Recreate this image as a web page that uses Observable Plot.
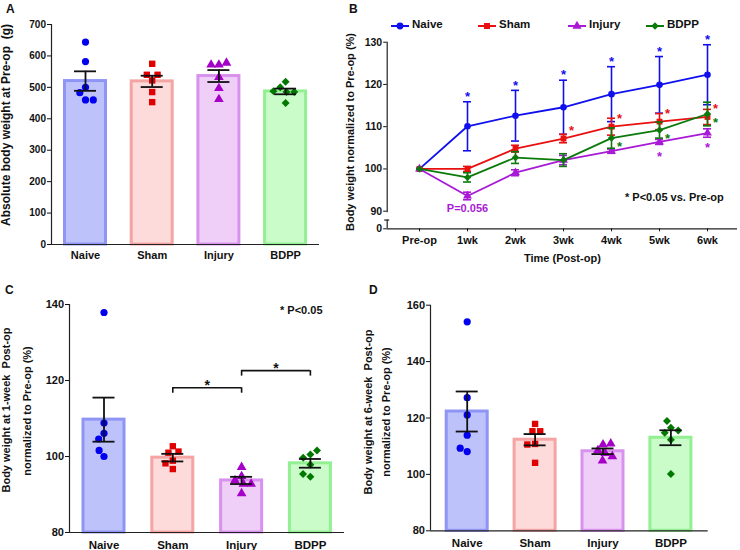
<!DOCTYPE html>
<html><head><meta charset="utf-8">
<script src="https://cdn.jsdelivr.net/npm/d3@7"></script>
<script src="https://cdn.jsdelivr.net/npm/@observablehq/plot@0.6"></script>
<style>
body{margin:0;background:#fff;font-family:"Liberation Sans",Arial,sans-serif;}
#root{position:relative;width:740px;height:550px;overflow:hidden;background:#fff;}
.panel{position:absolute;}
.lab{position:absolute;font-weight:bold;color:#111;white-space:pre;}
.rot{position:absolute;transform:translate(-50%,-50%) rotate(-90deg);font-weight:bold;font-size:11px;line-height:11px;white-space:pre;color:#111;}
</style></head><body><div id="root"></div>
<script>
// ---------- data ----------
const groups = ["Naive", "Sham", "Injury", "BDPP"];
const timeLabels = ["Pre-op", "1wk", "2wk", "3wk", "4wk", "5wk", "6wk"];

// Panel A: absolute body weight at Pre-op (g)
const aTicks = [0, 100, 200, 300, 400, 500, 600, 700];
const aMean = [520, 519, 536, 487];
const aSem = [31, 18, 19, 9];
const aNaive = [644, 582, 500, 483, 460, 460];
const aSham = [575, 522, 540, 540, 485, 453];
const aInjury = [572, 572, 578, 532, 497, 462];
const aBdpp = [518, 500, 485, 485, 488, 450];

// Panel B: body weight normalized to Pre-op (%)
const bTicks = [90, 100, 110, 120, 130];
const bNaiveMean = [100, 110.1, 112.6, 114.6, 117.7, 119.9, 122.3];
const bNaiveSem = [0, 5.8, 6.0, 6.4, 6.5, 6.7, 7.1];
const bShamMean = [100, 100.0, 104.8, 107.2, 110.0, 111.2, 112.3];
const bShamSem = [0, 0.6, 0.8, 1.0, 2.0, 1.9, 1.8];
const bInjuryMean = [100, 93.6, 99.1, 102.1, 104.2, 106.4, 108.5];
const bInjurySem = [0, 0.9, 0.7, 1.1, 0.5, 0.6, 1.0];
const bBdppMean = [100, 98.0, 102.7, 102.1, 107.3, 109.2, 113.0];
const bBdppSem = [0, 1.1, 1.4, 1.5, 2.4, 1.9, 2.8];
const bStarsNaive = [1, 2, 3, 4, 5, 6];
const bStarsSham = [3, 4, 5, 6];
const bStarsInjury = [5, 6];
const bStarsBdpp = [4, 5, 6];

// Panel C: 1-week post-op (%)
const cTicks = [80, 100, 120, 140];
const cMean = [109.7, 99.7, 93.7, 98.2];
const cSem = [5.8, 1.0, 0.95, 1.15];
const cNaive = [137.9, 108.8, 106.1, 104.6, 100.0, 101.6];
const cSham = [102.7, 101.0, 101.3, 98.9, 98.2, 96.7];
const cInjury = [97.2, 94.8, 93.7, 92.8, 92.8, 90.3];
const cBdpp = [100.5, 99.7, 101.6, 97.8, 94.7, 95.4];
const cBrackets = [{from: 1, to: 2, y: 118.1}, {from: 2, to: 3, y: 122.6}];

// Panel D: 6-week post-op (%)
const dTicks = [80, 100, 120, 140, 160];
const dMean = [122.3, 112.3, 108.2, 113.0];
const dSem = [7.1, 2.0, 1.0, 2.65];
const dNaive = [154.1, 127.2, 121.1, 113.9, 108.1, 109.3];
const dSham = [117.9, 115.3, 115.3, 110.8, 110.6, 104.1];
const dInjury = [110.6, 108.5, 110.9, 107.5, 104.9, 106.4];
const dBdpp = [116.5, 118.9, 114.8, 115.6, 112.3, 100.1];

// ---------- styles ----------
const barFill = ["#bec2fb", "#fddbdb", "#efcff8", "#c9fcc9"];
const barStroke = ["#8f95f4", "#f5a4a4", "#d892ee", "#92ef92"];
const dotColor = ["#0000ee", "#e00000", "#a400c8", "#007800"];
const lineColor = ["#1010ee", "#e81010", "#a81ad6", "#0a7a0a"];
const symbols = ["circle", "square", "triangle", "diamond2"];
const FONT = '"Liberation Sans", Arial, sans-serif';

const root = document.getElementById("root");
function place(el, left, top) {
  const d = document.createElement("div");
  d.className = "panel"; d.style.left = left + "px"; d.style.top = top + "px";
  d.appendChild(el); root.appendChild(d);
}
function label(text, left, top, size, color, cls) {
  const d = document.createElement("div");
  d.className = cls || "lab"; d.textContent = text;
  d.style.left = left + "px"; d.style.top = top + "px";
  if (size) { d.style.fontSize = size + "px"; d.style.lineHeight = size + "px"; }
  if (color) d.style.color = color;
  root.appendChild(d);
}

// simple beeswarm: horizontal offsets (px) so dots do not overlap
function swarm(values, ppu, D) {
  const placed = [];
  return values.map(v => {
    const y = v * ppu, forb = [];
    for (const p of placed) {
      const dy = Math.abs(p.y - y);
      if (dy < D) { const w = Math.sqrt(D * D - dy * dy); forb.push([p.x - w, p.x + w]); }
    }
    const cands = [0];
    forb.forEach(([a, b]) => cands.push(a, b));
    cands.sort((a, b) => Math.abs(a) - Math.abs(b) || a - b);
    const x = cands.find(c => forb.every(([a, b]) => c <= a + 1e-6 || c >= b - 1e-6));
    placed.push({y, x});
    return x;
  });
}

function barPanel(o) {
  const xDomain = [(o.axisX - o.c0) / o.step, (o.endX - o.c0) / o.step];
  const ppu = (o.yRange[0] - o.yRange[1]) / (o.yDomain[1] - o.yDomain[0]);
  const bars = groups.map((g, i) => ({i, g, mean: o.means[i], sem: o.sems[i]}));
  const pts = [];
  o.points.forEach((vals, i) => {
    const offs = swarm(vals, ppu, 7.8);
    vals.forEach((v, k) => pts.push({i, v, off: offs[k]}));
  });
  const hw = 20.5 / o.step, cw = 11 / o.step;
  const caps = bars.flatMap(d => [{i: d.i, y: d.mean + d.sem}, {i: d.i, y: d.mean - d.sem}]);
  let extra = [];
  if (o.brackets) {
    const leg = 5.5 / ppu;
    const legs = o.brackets.flatMap(b => [{x: b.from, y: b.y}, {x: b.to, y: b.y}]);
    extra = [
      Plot.ruleY(o.brackets, {y: "y", x1: "from", x2: "to", stroke: "#111", strokeWidth: 1.6}),
      Plot.ruleX(legs, {x: "x", y1: "y", y2: d => d.y - leg, stroke: "#111", strokeWidth: 1.6}),
      Plot.text(o.brackets, {x: d => (d.from + d.to) / 2, y: "y", text: () => "*", dy: -2.6, fontSize: 14, fill: "#111"})
    ];
  }
  return Plot.plot({
    width: o.width, height: o.height,
    marginLeft: o.axisX, marginRight: o.width - o.endX,
    marginTop: o.yRange[1], marginBottom: o.height - o.yRange[0],
    x: {domain: xDomain, range: [o.axisX, o.endX]},
    y: {domain: o.yDomain, range: o.yRange},
    style: {fontFamily: FONT, fontWeight: "bold", color: "#111", background: "transparent", overflow: "visible"},
    marks: [
      Plot.rect(bars, {x1: d => d.i - hw, x2: d => d.i + hw, y1: o.yDomain[0], y2: "mean",
        fill: d => barFill[d.i], stroke: d => barStroke[d.i], strokeWidth: 3}),
      Plot.dot(pts, {x: d => d.i + d.off / o.step, y: "v", symbol: d => symbols[d.i],
        fill: d => dotColor[d.i], stroke: "none", r: 3.6}),
      Plot.ruleX(bars, {x: "i", y1: d => d.mean - d.sem, y2: d => d.mean + d.sem, stroke: "#111", strokeWidth: 1.8}),
      Plot.ruleY(caps, {y: "y", x1: d => d.i - cw, x2: d => d.i + cw, stroke: "#111", strokeWidth: 1.8}),
      Plot.ruleX([xDomain[0]], {stroke: "#222", strokeWidth: 1.2}),
      Plot.ruleY([o.yDomain[0]], {stroke: "#222", strokeWidth: 1.2}),
      Plot.axisY({ticks: o.yTicks, tickSize: 4, tickPadding: 1.5, fontSize: o.tickFont, label: null}),
      Plot.axisX({ticks: [0, 1, 2, 3], tickFormat: i => groups[i], tickSize: 0, tickPadding: o.labelPad,
        fontSize: o.catFont, label: null}),
      ...extra
    ]
  });
}

// ----- Panel A -----
place(barPanel({width: 345, height: 270, axisX: 51, c0: 85, step: 66.7, endX: 319,
  yDomain: [0, 700], yRange: [244, 24], yTicks: aTicks, means: aMean, sems: aSem,
  points: [aNaive, aSham, aInjury, aBdpp], tickFont: 10, catFont: 11, labelPad: 7}), 0, 0);

// ----- Panel C -----
place(barPanel({width: 345, height: 270, axisX: 69, c0: 103.5, step: 68.8, endX: 344,
  yDomain: [80, 140], yRange: [252, 24], yTicks: cTicks, means: cMean, sems: cSem,
  points: [cNaive, cSham, cInjury, cBdpp], tickFont: 11, catFont: 11.5, labelPad: 8, brackets: cBrackets}), 0, 280);

// ----- Panel D -----
place(barPanel({width: 395, height: 270, axisX: 85, c0: 121.7, step: 67.9, endX: 362.7,
  yDomain: [80, 160], yRange: [250.3, 24.7], yTicks: dTicks, means: dMean, sems: dSem,
  points: [dNaive, dSham, dInjury, dBdpp], tickFont: 11, catFont: 11.5, labelPad: 8}), 345, 280);

// ----- Panel B -----
(function () {
  const W = 440, H = 270, axisX = 86.7, c0 = 119, step = 48, endX = 437;
  const xDomain = [(axisX - c0) / step, (endX - c0) / step];
  const yTop = 130, yBottom = 85.83; // the bottom of the axis is labelled 0 (broken axis)
  const yRange = [228.3, 41.7];
  const breakHi = 89.64, breakLo = 87.9;
  const means = [bNaiveMean, bShamMean, bInjuryMean, bBdppMean];
  const sems = [bNaiveSem, bShamSem, bInjurySem, bBdppSem];
  const stars = [bStarsNaive, bStarsSham, bStarsInjury, bStarsBdpp];
  const rows = [];
  means.forEach((m, s) => m.forEach((v, t) => rows.push({s, t, m: v, e: sems[s][t]})));
  const cw = 4 / step;
  const marks = [];
  // star placement relative to point (px)
  const starPos = [
    {dx: 0, dy: -4.6, fromTop: true},
    {dx: 8, dy: -7.4},
    {dx: 0, dy: 15},
    {dx: 8, dy: 9}
  ];
  for (let s = 0; s < 4; s++) {
    const r = rows.filter(d => d.s === s);
    const re = r.filter(d => d.e > 0);
    const caps = re.flatMap(d => [{t: d.t, y: d.m + d.e}, {t: d.t, y: d.m - d.e}]);
    marks.push(
      Plot.line(r, {x: "t", y: "m", stroke: lineColor[s], strokeWidth: 1.8}),
      Plot.ruleX(re, {x: "t", y1: d => d.m - d.e, y2: d => d.m + d.e, stroke: lineColor[s], strokeWidth: 1.6}),
      Plot.ruleY(caps, {y: "y", x1: d => d.t - cw, x2: d => d.t + cw, stroke: lineColor[s], strokeWidth: 1.6}),
      Plot.dot(r, {x: "t", y: "m", symbol: () => symbols[s], fill: lineColor[s], stroke: "none", r: 3.3})
    );
    const sp = starPos[s];
    const st = r.filter(d => stars[s].includes(d.t));
    marks.push(Plot.text(st, {x: "t", y: d => sp.fromTop ? d.m + d.e : d.m, text: () => "*",
      dx: sp.dx, dy: sp.dy, fontSize: 13, lineHeight: 0.9, fill: lineColor[s]}));
  }
  // P value note under Injury at 1wk
  marks.push(Plot.text(rows.filter(d => d.s === 2 && d.t === 1), {x: "t", y: "m", text: () => "P=0.056",
    dy: 12.5, fontSize: 11, fill: lineColor[2]}));
  // broken y axis
  const segs = [{y1: yTop, y2: breakHi}, {y1: breakLo, y2: yBottom}];
  marks.push(
    Plot.ruleX(segs, {x: () => xDomain[0], y1: "y1", y2: "y2", stroke: "#222", strokeWidth: 1.2}),
    Plot.ruleY([breakLo], {x1: xDomain[0] - 2.5 / step, x2: xDomain[0] + 2.5 / step, stroke: "#222", strokeWidth: 1.2}),
    Plot.ruleY([yBottom], {stroke: "#222", strokeWidth: 1.2}),
    Plot.axisY({ticks: [yBottom, ...bTicks], tickFormat: d => d === yBottom ? "0" : d, tickSize: 3.5,
      tickPadding: 1.5, fontSize: 10.5, label: null}),
    Plot.axisX({ticks: d3.range(timeLabels.length), tickFormat: i => timeLabels[i], tickSize: 3,
      tickPadding: 4, fontSize: 11, label: null})
  );
  const svg = Plot.plot({
    width: W, height: H, marginLeft: axisX, marginRight: W - endX, marginTop: yRange[1], marginBottom: H - yRange[0],
    x: {domain: xDomain, range: [axisX, endX]},
    y: {domain: [yBottom, yTop], range: yRange},
    style: {fontFamily: FONT, fontWeight: "bold", color: "#111", background: "transparent", overflow: "visible"},
    marks
  });
  place(svg, 300, 0);
})();

// ----- Legend for B -----
const legendX = [400, 487, 577, 655];
groups.forEach((g, i) => {
  const ns = "http://www.w3.org/2000/svg";
  const s = document.createElementNS(ns, "svg");
  s.setAttribute("width", 20); s.setAttribute("height", 12);
  const ln = document.createElementNS(ns, "line");
  ln.setAttribute("x1", 1); ln.setAttribute("x2", 19); ln.setAttribute("y1", 6); ln.setAttribute("y2", 6);
  ln.setAttribute("stroke", lineColor[i]); ln.setAttribute("stroke-width", 2);
  const sym = {circle: d3.symbolCircle, square: d3.symbolSquare, triangle: d3.symbolTriangle, diamond2: d3.symbolDiamond2}[symbols[i]];
  const p = document.createElementNS(ns, "path");
  p.setAttribute("d", d3.symbol(sym, Math.PI * 3.4 * 3.4)());
  p.setAttribute("transform", "translate(10,6)"); p.setAttribute("fill", lineColor[i]);
  s.appendChild(ln); s.appendChild(p);
  const d = document.createElement("div");
  d.className = "panel"; d.style.left = (legendX[i] - 10) + "px"; d.style.top = "18px";
  d.appendChild(s); root.appendChild(d);
  label(g, legendX[i] + 12, 18.5, 11.5);
});

// ----- Titles, letters, notes -----
label("A", 6, 3, 12); label("B", 349, 3, 12); label("C", 5, 284, 12); label("D", 369, 284, 12);
label("Absolute body weight at Pre-op  (g)", 6, 125, 12, null, "rot");
label("Body weight normalized to Pre-op (%)", 350, 132, 11, null, "rot");
label("Body weight at 1-week  Post-op", 6, 410, 11, null, "rot");
label("normalized to Pre-op (%)", 27, 411, 11, null, "rot");
label("Body weight at 6-week  Post-op", 368, 412, 11, null, "rot");
label("normalized to Pre-op (%)", 386, 412, 11, null, "rot");
label("Time (Post-op)", 524, 252.5, 11);
label("* P<0.05 vs. Pre-op", 625, 191.5, 11);
label("* P<0.05", 280, 304.5, 11);
</script></body></html>
